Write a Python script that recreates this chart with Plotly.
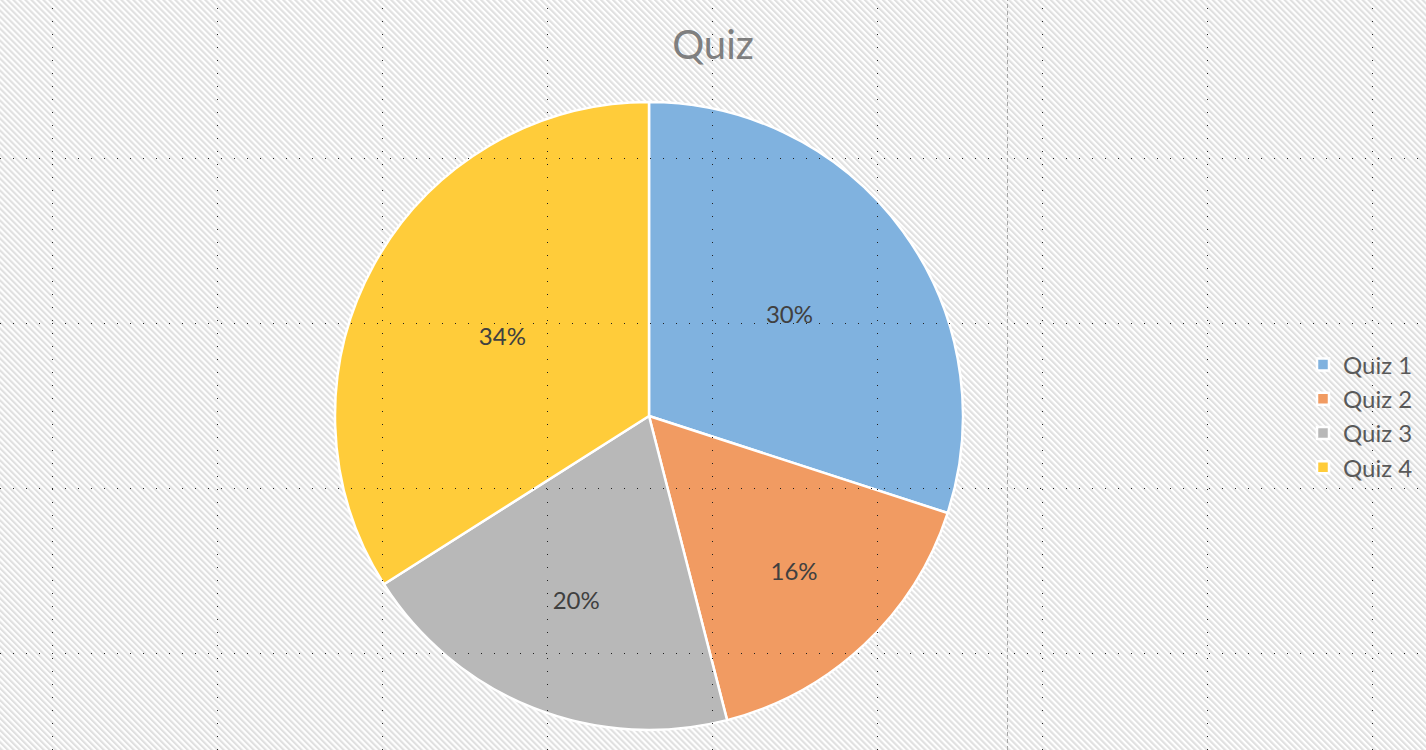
import base64
import plotly.graph_objects as go

# ---- data ----
categories = ["Quiz 1", "Quiz 2", "Quiz 3", "Quiz 4"]
values = [30, 16, 20, 34]
colors = ["#80b2df", "#f19b62", "#b8b8b8", "#ffcc3a"]
title_text = "Quiz"

W, H = 1426, 750

# ---- background: diagonal stripe pattern ----
svg = f'''<svg xmlns="http://www.w3.org/2000/svg" width="{W}" height="{H}">
<defs><pattern id="p" patternUnits="userSpaceOnUse" width="4.24" height="4.24" patternTransform="rotate(-45)">
<rect width="4.24" height="4.24" fill="#ffffff"/><rect width="2.12" height="4.24" fill="#e0e0e0"/></pattern></defs>
<rect width="{W}" height="{H}" fill="url(#p)"/></svg>'''
bg_src = "data:image/svg+xml;base64," + base64.b64encode(svg.encode()).decode()

fig = go.Figure(go.Pie(
    labels=categories,
    values=values,
    sort=False,
    direction="clockwise",
    rotation=0,
    marker=dict(colors=colors, line=dict(color="#ffffff", width=2.5)),
    textinfo="percent",
    textposition="inside",
    insidetextorientation="horizontal",
    textfont=dict(family="Lato, 'Open Sans', sans-serif", size=24, color="#404040"),
    hoverinfo="label+percent",
    domain=dict(x=[335 / W, 963 / W], y=[1 - 730 / H, 1 - 102 / H]),
))

# ---- guide lines (slide editing guides) ----
shapes = []
guide_step = 165
gx0, gy0 = 52, 158
for k in range(9):
    x = (gx0 + guide_step * k + 0.5) / W
    shapes.append(dict(type="line", xref="paper", yref="paper", x0=x, x1=x, y0=0, y1=1,
                       line=dict(color="#202020", width=1, dash="1px,12px"), layer="above"))
for k in range(4):
    y = 1 - (gy0 + guide_step * k + 0.5) / H
    shapes.append(dict(type="line", xref="paper", yref="paper", x0=0, x1=1, y0=y, y1=y,
                       line=dict(color="#202020", width=1, dash="1px,12px"), layer="above"))
xd = (1007 + 0.5) / W
shapes.append(dict(type="line", xref="paper", yref="paper", x0=xd, x1=xd, y0=0, y1=1,
                   line=dict(color="#a8a8a8", width=1, dash="4px,3px"), layer="above"))

fig.update_layout(
    width=W, height=H,
    margin=dict(l=0, r=0, t=0, b=0),
    paper_bgcolor="#f2f2f2",
    plot_bgcolor="rgba(0,0,0,0)",
    title=dict(text=title_text, x=0.5, xanchor="center", y=1 - 45 / H, yanchor="middle",
               font=dict(family="Lato, 'Open Sans', sans-serif", size=40, color="#7f7f7f")),
    showlegend=True,
    legend=dict(x=1303 / W, xanchor="left", y=1 - 416 / H, yanchor="middle",
                bgcolor="rgba(0,0,0,0)",
                font=dict(family="Lato, 'Open Sans', sans-serif", size=24, color="#595959"),
                itemwidth=30, tracegroupgap=0),
    images=[dict(source=bg_src, xref="paper", yref="paper", x=0, y=1, sizex=1, sizey=1,
                 xanchor="left", yanchor="top", sizing="stretch", layer="below")],
    shapes=shapes,
)

fig.write_html("out.html", config={"displayModeBar": False},
               post_script="document.body.style.margin='0';document.body.style.overflow='hidden';")
